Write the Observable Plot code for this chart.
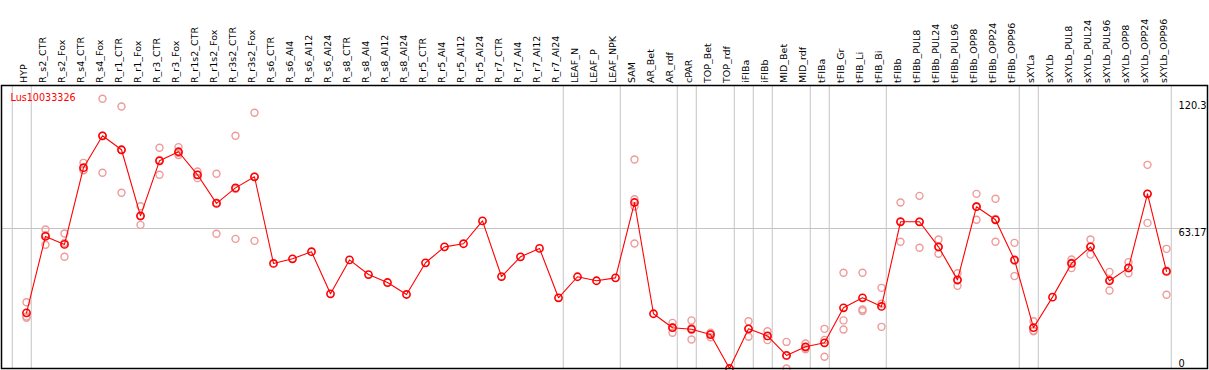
<!DOCTYPE html>
<html>
<head>
<meta charset="utf-8">
<script src="https://cdn.jsdelivr.net/npm/d3@7"></script>
<script src="https://cdn.jsdelivr.net/npm/@observablehq/plot@0.6"></script>
<style>
  html, body { margin: 0; padding: 0; background: #fff; }
  svg { display: block; }
</style>
</head>
<body>
<div id="chart"></div>
<script>
const title = "Lus10033326";

const categories = [
  "HYP","R_s2_CTR","R_s2_Fox","R_s4_CTR","R_s4_Fox","R_r1_CTR","R_r1_Fox","R_r3_CTR","R_r3_Fox",
  "R_r1s2_CTR","R_r1s2_Fox","R_r3s2_CTR","R_r3s2_Fox",
  "R_s6_CTR","R_s6_Al4","R_s6_Al12","R_s6_Al24",
  "R_s8_CTR","R_s8_Al4","R_s8_Al12","R_s8_Al24",
  "R_r5_CTR","R_r5_Al4","R_r5_Al12","R_r5_Al24",
  "R_r7_CTR","R_r7_Al4","R_r7_Al12","R_r7_Al24",
  "LEAF_N","LEAF_P","LEAF_NPK","SAM","AR_Bet","AR_rdf","cPAR","TOP_Bet","TOP_rdf",
  "iFIBa","iFIBb","MID_Bet","MID_rdf","tFIBa","tFIB_Gr","tFIB_Li","tFIB_Bi",
  "tFIBb","tFIBb_PUL8","tFIBb_PUL24","tFIBb_PUL96","tFIBb_OPP8","tFIBb_OPP24","tFIBb_OPP96",
  "sXYLa","sXYLb","sXYLb_PUL8","sXYLb_PUL24","sXYLb_PUL96","sXYLb_OPP8","sXYLb_OPP24","sXYLb_OPP96"
];

const means = [
  25.1, 59.6, 56.0, 90.6, 105.0, 98.7, 68.9, 93.7, 97.8,
  87.4, 74.5, 81.5, 86.5,
  47.4, 49.5, 52.7, 33.7,
  49.0, 42.4, 38.8, 33.4,
  47.7, 54.9, 56.3, 66.6,
  41.5, 50.4, 54.2, 31.9,
  41.4, 39.6, 40.9, 74.9, 24.7, 18.4, 17.7, 15.3, 0,
  17.9, 14.7, 5.9, 9.8, 11.6, 27.4, 31.9, 28.0,
  66.2, 66.2, 54.9, 40.0, 73.0, 67.1, 49.0,
  18.4, 32.2, 47.4, 54.9, 39.6, 45.4, 78.8, 43.8
];

const replicates = [
  [29.9, 23.5, 22.9], [62.7, 55.8, 60.3], [60.9, 50.4, 56.7], [92.8, 89.4, 89.6], [121.7, 88.3, 105.0],
  [118.2, 79.3, 98.6], [73.2, 64.8, 68.7], [99.6, 87.4, 94.1], [99.9, 96.3, 97.2],
  [88.9, 85.9, 87.4], [87.9, 60.8, 74.8], [105.0, 58.5, 81.0], [115.4, 57.6, 86.5],
  [], [], [], [],
  [], [], [], [],
  [], [], [], [],
  [], [], [], [],
  [], [], [], [94.3, 76.4, 73.1, 56.4], [], [20.6, 16.1, 18.5], [21.7, 13.1, 18.3], [16.2, 14.1, 15.6], [],
  [21.3, 14.3, 18.0], [16.8, 12.8, 14.6], [12.0, 0.0, 5.7], [11.3, 8.7, 9.4], [17.9, 5.3, 12.9],
  [43.2, 21.7, 17.6], [43.2, 26.6, 25.9], [36.4, 29.2, 18.8],
  [74.9, 57.2, 66.5], [77.9, 54.5, 66.2], [58.2, 51.8, 54.7], [43.0, 37.3, 39.7],
  [78.8, 67.1, 73.1], [76.6, 57.2, 67.5], [56.7, 41.7, 48.6],
  [21.3, 16.8, 17.1], [], [49.2, 45.3, 47.7], [58.2, 51.4, 55.1], [43.6, 35.2, 40.0],
  [48.0, 43.0, 45.2], [91.9, 65.7, 78.8], [54.0, 33.3, 44.1]
];

// groups: a separator line is drawn before each of these (and after the last category)
const groupStarts = ["HYP","R_s2_CTR","LEAF_N","SAM","cPAR","TOP_Bet","iFIBa","iFIBb",
  "MID_Bet","tFIBa","tFIB_Gr","tFIBb","sXYLa","sXYLb"];

const yTickValues = [0, 63.17, 120.3];
const yTickLabels = ["0", "63.17", "120.3"];
const midLine = [63.17];

// ---- build tables ----
const meanRows = categories.map((c, i) => ({cat: c, i, v: means[i]}));
const repRows = [];
replicates.forEach((arr, i) => arr.forEach(v => repRows.push({i, v})));
const sepRows = groupStarts.map(g => categories.indexOf(g) - 0.75).concat([categories.length - 0.75]);
const tickRows = yTickValues.map((v, k) => ({v, label: yTickLabels[k], bottom: v === 0}));

const W = 1209, H = 370;
const font = "DejaVu Sans, sans-serif";
const red = "#ff0000";
const pink = "#ef9a9a";

const chart = Plot.plot({
  width: W,
  height: H,
  marginTop: 85,
  marginBottom: 2,
  marginLeft: 1,
  marginRight: 2,
  style: {fontFamily: font, fontSize: "9.5px", background: "#fff"},
  x: {type: "linear", domain: [-25 / 19, (1207 - 26) / 19], axis: null},
  y: {type: "linear", domain: [0, 127.7], axis: null},
  marks: [
    Plot.ruleX(sepRows, {x: d => d, stroke: "#c4c4c4", strokeWidth: 1}),
    Plot.ruleY(midLine, {stroke: "#c4c4c4", strokeWidth: 1}),
    Plot.dot(repRows, {x: "i", y: "v", r: 3.5, stroke: pink, strokeWidth: 1.4, fill: "none"}),
    Plot.line(meanRows, {x: "i", y: "v", stroke: red, strokeWidth: 1.1}),
    Plot.dot(meanRows, {x: "i", y: "v", r: 3.6, stroke: red, strokeWidth: 1.6, fill: "none"}),
    Plot.frame({stroke: "#000", strokeWidth: 1.5}),
    // category labels (top axis)
    Plot.text(meanRows, {
      x: "i", frameAnchor: "top", text: "cat", rotate: -90,
      textAnchor: "start", lineAnchor: "middle", dx: -2.3, dy: -2.5,
      fill: "#000", fontSize: 9.5
    }),
    // y tick labels (right inside)
    Plot.text(tickRows.filter(d => !d.bottom), {
      y: "v", text: "label", frameAnchor: "right", textAnchor: "start",
      lineAnchor: "top", dx: -29, dy: 0.5, fill: "#000", fontSize: 9.8
    }),
    Plot.text(tickRows.filter(d => d.bottom), {
      y: "v", text: "label", frameAnchor: "right", textAnchor: "start",
      lineAnchor: "bottom", dx: -29, dy: -1.5, fill: "#000", fontSize: 9.8
    }),
    // title
    Plot.text([title], {
      frameAnchor: "top-left", text: d => d, textAnchor: "start",
      lineAnchor: "middle", dx: 9, dy: 12, fill: red, fontSize: 9.6
    })
  ]
});

document.getElementById("chart").appendChild(chart);
</script>
</body>
</html>
